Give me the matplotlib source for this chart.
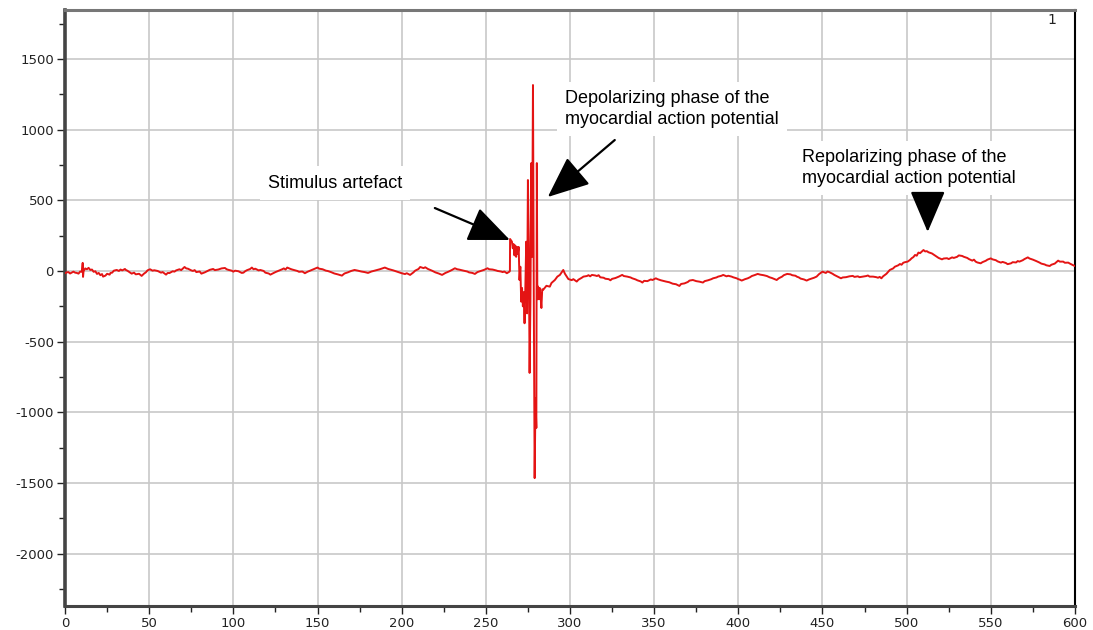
import matplotlib
matplotlib.use("Agg")
import matplotlib.pyplot as plt
from matplotlib.ticker import MultipleLocator, FuncFormatter

plt.rcParams["axes.unicode_minus"] = False

# (time, amplitude) readings, pre-stimulus baseline
baseline_pre = [
    (0, -16), (1, -10), (2, -8), (3, -18), (5, -5), (6, -12), (7, -14), (8, -19),
    (9, -4), (10, -6), (10.5, 57), (10.7, -42), (11, -2), (12, 18), (13, 12), (14, 22),
    (15, 7), (16, 10), (17, -6), (18, -2), (19, -21), (20, -14), (21, -30), (22, -22),
    (22.6, -40), (24, -33), (25, -20), (26.5, -26), (27, -14), (28, -12), (29, 2),
    (30.7, 7), (32, 0), (33, 10), (34, 4), (35.6, 14), (36, 8), (37, 2), (38, -6),
    (39.6, -19), (41, -12), (42, -24), (44, -20), (45.5, -35), (47, -18), (48, -10),
    (49, 4), (50.5, 12), (52, 2), (53, 5), (55, 0), (56, -6), (57, -12), (58, -8),
    (60, -26), (61, -14), (62, -15), (64, -2), (65, -5), (66, 4), (68, 12), (69, 6),
    (71, 28), (72, 18), (73, 16), (75, 4), (76, 0), (77, 6), (78, -8), (80, -4),
    (81, -19), (83, -10), (84, -4), (86, 8), (88, 14), (89, 6), (91, 10), (93, 18),
    (95, 21), (96, 12), (97, 8), (99, 2), (100, -5), (101, 2), (103, -2), (105, -14),
    (106, -12), (107, -2), (108, 5), (110, 14), (111, 24), (112, 12), (113, 16),
    (115, 4), (116, 7), (118, 0), (119, -12), (121, -18), (122, -26), (124, -14),
    (125, -8), (127, 2), (128, 7), (129, 12), (130, 18), (131, 10), (132, 24),
    (134, 14), (135, 10), (136.6, 5), (138, 0), (139, -6), (141, -4), (142.5, -16),
    (144, -6), (146, 4), (148, 14), (150, 24), (151, 16), (153, 12), (155, 2), (156, 0),
    (158, -8), (160, -18), (162, -24), (164.5, -33), (166, -18), (168, -10), (170, 0),
    (172, 7), (174, 2), (176, -4), (178, -8), (180, -14), (182, -4), (185, 6), (187, 12),
    (190, 24), (192, 14), (195, 4), (197, -4), (200, -16), (202, -22), (203, -16),
    (205, -28), (207, -10), (208, 2), (210, 14), (211, 28), (213, 20), (214, 26),
    (215.6, 14), (218, 2), (220, -10), (222, -18), (224, -28), (226, -14), (228, -4),
    (230, 8), (231.6, 19), (233, 12), (234, 10), (236, 4), (237.5, 0), (239, -4),
    (240, -10), (242, -14), (243.5, -21), (245, -8), (247, 0), (249, 8), (251, 19),
    (252, 12), (254, 10), (256, 4), (257, 0), (259, -4), (260, -8), (261, -4),
    (262.5, -16), (264, -5),
]

# stimulus artefact + depolarizing spike
spike = [
    (264.3, 0), (264.4, 226), (265.5, 207), (266, 160), (266.5, 190), (267, 110),
    (267.5, 180), (268, 100), (268.5, 170), (269, 120), (269.5, 170), (270, -64),
    (270.5, 30), (271, -217), (271.5, -120), (272, -250), (272.5, -150), (273, -370),
    (273.5, -100), (274, 207), (274.5, -300), (275, 643), (275.5, 200), (276, -721),
    (276.5, -200), (277, 763), (277.5, 100), (278, 1315), (278.5, -200), (279, -1465),
    (279.5, -900), (280, -1110), (280.3, 763), (280.6, -200), (281, -110),
    (281.5, -200), (282, -120), (282.5, -180), (283, -262), (283.5, -130), (284, -134),
    (285, -120), (286, -105), (288, -111), (289, -85), (291, -64), (292.5, -40),
    (294, -28), (295, -10), (296, 7), (297, -20), (299, -57),
]

# post-stimulus trace, incl. repolarizing hump
baseline_post = [
    (301, -65), (302, -58), (304, -75), (305, -62), (306, -55), (307, -48), (308, -40),
    (310, -36), (311, -30), (312, -38), (313, -28), (315, -32), (316, -36), (317, -30),
    (318, -45), (320, -48), (321, -55), (323, -58), (324, -66), (325, -56), (327, -50),
    (329, -40), (331, -28), (332, -36), (334, -40), (336, -46), (337, -52), (339, -60),
    (340, -66), (342, -74), (343, -82), (344, -70), (346, -72), (348, -60), (349, -64),
    (351, -52), (352, -58), (354, -66), (357, -75), (359, -80), (361, -90), (363, -94),
    (365, -106), (366, -92), (368, -88), (370, -78), (371, -68), (373, -64), (375, -72),
    (377, -76), (379, -82), (380, -72), (382, -66), (384, -58), (385, -52), (387, -46),
    (388, -40), (390, -34), (391, -28), (393, -38), (394, -34), (396, -40), (397, -45),
    (399, -52), (400, -58), (401, -62), (402, -68), (404, -58), (405.6, -52), (407, -44),
    (408, -36), (410, -28), (411.5, -21), (413, -26), (415, -30), (417, -36),
    (418.6, -45), (420, -50), (421, -55), (422.8, -64), (424, -52), (426, -40),
    (427, -30), (429, -21), (431, -24), (432, -30), (434, -34), (434.7, -40),
    (436, -46), (437, -54), (439, -60), (440.6, -68), (442, -60), (443, -56),
    (445, -48), (446.5, -40), (448, -22), (450, -5), (451, -10), (452, -14), (453, -4),
    (454, -8), (456, -20), (457, -28), (459, -40), (461, -52), (462, -46), (464, -44),
    (466, -38), (468, -35), (469, -42), (471, -38), (472, -44), (474, -40), (476, -36),
    (477, -32), (478, -40), (480, -40), (482, -44), (483, -48), (484, -42), (485, -52),
    (486, -38), (488, -20), (489, -6), (490, 7), (492, 18), (493, 30), (495, 40),
    (496, 49), (497, 44), (498, 58), (499, 62), (500.6, 66), (502, 78), (503, 90),
    (504, 98), (505, 113), (506, 108), (507, 130), (508, 126), (510, 148), (511, 138),
    (512, 140), (513, 132), (515, 124), (516, 116), (518, 100), (519, 92), (521, 82),
    (522, 88), (524, 90), (525, 84), (527, 96), (528, 92), (530, 100), (531, 110),
    (533, 106), (534, 100), (536, 92), (537, 84), (539, 73), (540, 80), (541, 66),
    (542, 60), (544, 54), (545, 62), (547, 72), (548, 80), (550, 89), (551, 82),
    (553, 76), (554, 68), (556, 59), (557, 64), (559, 56), (560, 48), (562, 54),
    (563, 62), (565, 60), (566, 70), (567, 66), (569, 76), (570, 84), (571, 90),
    (572, 96), (573, 88), (575, 80), (577, 70), (579, 59), (580, 52), (582, 46),
    (583, 40), (585, 35), (586, 44), (588, 52), (589, 62), (590, 73), (591, 66),
    (593, 66), (594, 58), (596, 59), (597, 52), (598, 46), (599, 40), (600, 35),
]

trace = baseline_pre + spike + baseline_post
t = [p[0] for p in trace]
v = [p[1] for p in trace]

fig = plt.figure(figsize=(10.93, 6.30), dpi=100)
ax = fig.add_axes([0.0595, 0.038, 0.924, 0.946])

ax.plot(t, v, color="#e41414", lw=1.4, zorder=3)

ax.set_xlim(0, 600)
ax.set_ylim(-2370, 1845)
ax.xaxis.set_major_locator(MultipleLocator(50))
ax.xaxis.set_minor_locator(MultipleLocator(25))
ax.yaxis.set_major_locator(MultipleLocator(500))
ax.yaxis.set_minor_locator(MultipleLocator(250))
ax.yaxis.set_major_formatter(FuncFormatter(lambda y, _: f"{int(y)}"))
ax.grid(True, which="major", color="#c8c8c8", lw=1.2, zorder=0)
ax.tick_params(which="major", length=6, width=1, color="#222", labelsize=9.5,
               pad=2, labelcolor="#222")
ax.tick_params(which="minor", length=4, width=1, color="#222")

ax.spines["left"].set_linewidth(2.6)
ax.spines["left"].set_color("#444")
ax.spines["bottom"].set_linewidth(2.2)
ax.spines["bottom"].set_color("#444")
ax.spines["top"].set_linewidth(2.2)
ax.spines["top"].set_color("#777")
ax.spines["right"].set_linewidth(1.5)
ax.spines["right"].set_color("black")

font = dict(family=["Liberation Sans", "DejaVu Sans"], fontsize=13, color="black")
box = dict(facecolor="white", edgecolor="none", pad=6)
ax.text(120.5, 622, "Stimulus artefact", va="center", ha="left", bbox=box,
        zorder=2, **font)
ax.text(297, 1145, "Depolarizing phase of the\nmyocardial action potential",
        va="center", ha="left", linespacing=1.25, bbox=box, zorder=2, **font)
ax.text(438, 728, "Repolarizing phase of the\nmyocardial action potential",
        va="center", ha="left", linespacing=1.25, bbox=box, zorder=2, **font)

arrow = dict(arrowstyle="-|>,head_length=2.0,head_width=0.85", color="black",
             lw=1.6, shrinkA=0, shrinkB=0, mutation_scale=13)
ax.annotate("", xy=(264.3, 219), xytext=(219.7, 445), arrowprops=arrow, zorder=4)
ax.annotate("", xy=(286.8, 523), xytext=(326.6, 926), arrowprops=arrow, zorder=4)
ax.annotate("", xy=(512.5, 276), xytext=(512.5, 551), arrowprops=arrow, zorder=4)

ax.text(0.977, 0.995, "1", transform=ax.transAxes, ha="center", va="top",
        fontsize=10, color="#222")

fig.savefig("out.png", dpi=100)
